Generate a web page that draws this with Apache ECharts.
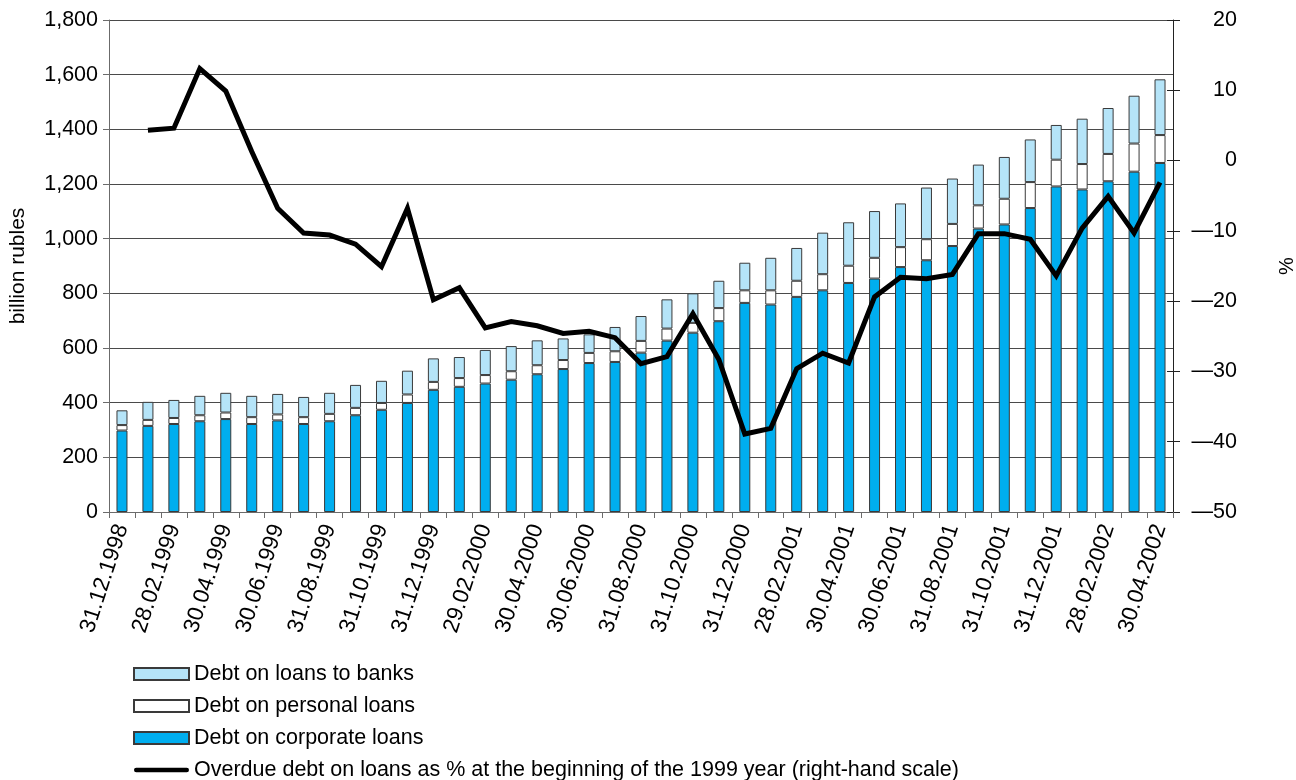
<!DOCTYPE html>
<html>
<head>
<meta charset="utf-8">
<script src="https://cdn.jsdelivr.net/npm/echarts@6/dist/echarts.min.js"></script>
<style>
  html, body { margin: 0; padding: 0; background: #fff; }
  #chart { width: 1296px; height: 780px; }
</style>
</head>
<body>
<div id="chart"></div>
<script>
const categories = [
  "31.12.1998", "31.01.1999", "28.02.1999", "31.03.1999", "30.04.1999", "31.05.1999",
  "30.06.1999", "31.07.1999", "31.08.1999", "30.09.1999", "31.10.1999", "30.11.1999",
  "31.12.1999", "31.01.2000", "29.02.2000", "31.03.2000", "30.04.2000", "31.05.2000",
  "30.06.2000", "31.07.2000", "31.08.2000", "30.09.2000", "31.10.2000", "30.11.2000",
  "31.12.2000", "31.01.2001", "28.02.2001", "31.03.2001", "30.04.2001", "31.05.2001",
  "30.06.2001", "31.07.2001", "31.08.2001", "30.09.2001", "31.10.2001", "30.11.2001",
  "31.12.2001", "31.01.2002", "28.02.2002", "31.03.2002", "30.04.2002"
];

// billion rubles
const corporateLoans = [
  298, 315, 322, 332, 340, 322, 335, 322, 332, 354, 374, 399, 447, 458, 470, 484, 504,
  523, 545, 549, 583, 627, 656, 698, 765, 759, 787, 811, 838, 854, 896, 921, 973, 1037,
  1052, 1112, 1191, 1180, 1210, 1245, 1277
];
const personalLoans = [
  20, 22, 22, 22, 24, 25, 22, 25, 27, 27, 25, 31, 29, 32, 31, 31, 33, 33, 37, 39, 43,
  44, 36, 48, 46, 52, 59, 59, 63, 76, 73, 77, 81, 85, 94, 95, 98, 93, 100, 103, 102
];
const bankLoans = [
  54, 66, 66, 71, 72, 78, 75, 74, 77, 84, 81, 87, 86, 77, 92, 92, 91, 79, 68, 89, 91,
  107, 108, 100, 101, 119, 120, 152, 159, 171, 160, 189, 166, 149, 153, 156, 127, 166,
  168, 175, 204
];

// % (right-hand scale), no value for the first date
const overdueDebt = [
  "-", 4.3, 4.6, 13.1, 9.9, 1.3, -6.8, -10.3, -10.6, -11.9, -15.1, -6.8, -19.8, -18.1,
  -23.8, -22.9, -23.5, -24.6, -24.3, -25.2, -28.9, -27.9, -21.8, -28.3, -38.9, -38.1,
  -29.6, -27.4, -28.8, -19.4, -16.6, -16.8, -16.2, -10.4, -10.4, -11.2, -16.4, -9.6,
  -5.1, -10.3, -3.1
];

const names = [
  "Debt on loans to banks",
  "Debt on personal loans",
  "Debt on corporate loans",
  "Overdue debt on loans as % at the beginning of the 1999 year (right-hand scale)"
];

const font = "Liberation Sans, Arial, Helvetica, sans-serif";
const axisGray = "#6b6b6b";

const chartDom = document.getElementById("chart");
const myChart = echarts.init(chartDom);

const barStyle = (color) => ({
  color: color,
  borderColor: "#3a3a3a",
  borderWidth: 1
});

const option = {
  animation: false,
  textStyle: { fontFamily: font, color: "#000" },
  grid: {
    left: 109,
    right: 123,
    top: 20,
    bottom: 268,
    containLabel: false,
    outerBoundsMode: "none"
  },
  legend: {
    orient: "vertical",
    left: 133,
    top: 663,
    height: 140,
    padding: 0,
    itemWidth: 55,
    itemHeight: 12,
    itemGap: 10,
    textStyle: { fontFamily: font, fontSize: 21.5, color: "#000", lineHeight: 22 },
    data: [
      { name: names[0], icon: "rect" },
      { name: names[1], icon: "rect" },
      { name: names[2], icon: "rect" },
      {
        name: names[3],
        icon: "path://M2,0 L58,0 A2.5,2.5 0 0 1 58,5 L2,5 A2.5,2.5 0 0 1 2,0 Z",
        itemStyle: { color: "#000", borderWidth: 0 }
      }
    ]
  },
  xAxis: {
    type: "category",
    data: categories,
    axisLine: { lineStyle: { color: axisGray, width: 1 } },
    axisTick: { show: true, interval: 0, length: 6, lineStyle: { color: axisGray } },
    axisLabel: {
      interval: 1,
      rotate: 72,
      margin: 13,
      fontSize: 22.5,
      color: "#000",
      fontFamily: font
    }
  },
  yAxis: [
    {
      type: "value",
      min: 0,
      max: 1800,
      interval: 200,
      name: "billion rubles",
      nameLocation: "middle",
      nameRotate: 90,
      nameGap: 80,
      nameTextStyle: { fontSize: 21, color: "#000", fontFamily: font },
      axisLine: { show: true, lineStyle: { color: axisGray } },
      axisTick: { show: true, length: 6, lineStyle: { color: axisGray } },
      axisLabel: {
        fontSize: 21.5,
        color: "#000",
        margin: 11,
        formatter: (v) => v.toLocaleString("en-US")
      },
      splitLine: { show: true, lineStyle: { color: "#4a4a4a", width: 1 } }
    },
    {
      type: "value",
      position: "right",
      min: -50,
      max: 20,
      interval: 10,
      name: "%",
      nameLocation: "middle",
      nameRotate: 90,
      nameGap: 104,
      nameTextStyle: { fontSize: 20, color: "#000", fontFamily: font },
      axisLine: { show: true, lineStyle: { color: "#222" } },
      axisTick: { show: true, length: 7, lineStyle: { color: "#222" } },
      axisLabel: {
        fontSize: 21.5,
        color: "#000",
        align: "right",
        margin: 64,
        formatter: (v) => (v < 0 ? "\u2014" + Math.abs(v) : String(v))
      },
      splitLine: { show: false }
    },
    {
      // inner ticks of the right-hand scale
      type: "value",
      position: "right",
      min: -50,
      max: 20,
      interval: 10,
      axisLine: { show: false },
      axisTick: { show: true, inside: true, length: 6, lineStyle: { color: "#222" } },
      axisLabel: { show: false },
      splitLine: { show: false }
    }
  ],
  series: [
    {
      name: names[2],
      type: "bar",
      stack: "debt",
      barWidth: 11,
      data: corporateLoans,
      itemStyle: barStyle("#00aeef")
    },
    {
      name: names[1],
      type: "bar",
      stack: "debt",
      barWidth: 11,
      data: personalLoans,
      itemStyle: barStyle("#ffffff")
    },
    {
      name: names[0],
      type: "bar",
      stack: "debt",
      barWidth: 11,
      data: bankLoans,
      itemStyle: barStyle("#b5e4f8")
    },
    {
      name: names[3],
      type: "line",
      yAxisIndex: 1,
      data: overdueDebt,
      symbol: "none",
      lineStyle: { color: "#000", width: 5, join: "miter" },
      itemStyle: { color: "#000" },
      z: 5
    }
  ]
};

myChart.setOption(option);
</script>
</body>
</html>
